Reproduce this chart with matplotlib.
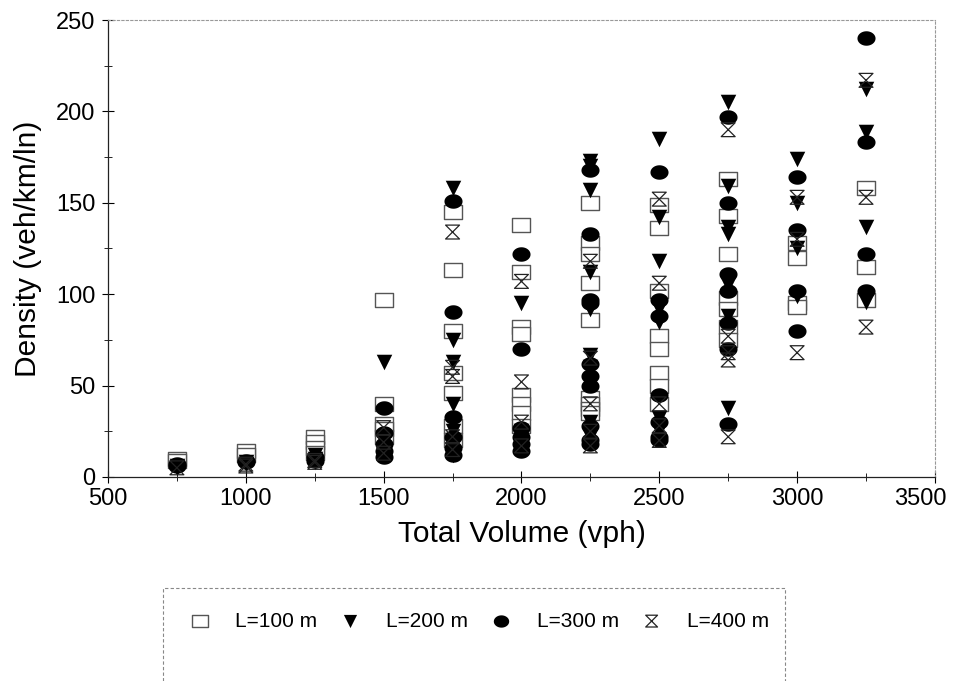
import matplotlib
matplotlib.use("Agg")
import matplotlib.pyplot as plt
from matplotlib.path import Path
from matplotlib.ticker import MultipleLocator
from matplotlib.patches import Rectangle
from matplotlib.transforms import ScaledTranslation
import numpy as np

plt.rcParams['font.family'] = ['Liberation Sans', 'DejaVu Sans']

# ---- data ----
L100 = {
    750: [10, 9],
    1000: [14, 12],
    1250: [22, 19, 16, 13],
    1500: [97, 40, 29, 26, 22],
    1750: [145, 113, 80, 57, 46, 28, 20],
    2000: [138, 112, 82, 78, 45, 40, 35, 28],
    2250: [150, 128, 122, 106, 86, 43, 40, 37, 35],
    2500: [149, 136, 102, 77, 70, 57, 50, 40],
    2750: [163, 143, 122, 98, 92, 82, 75],
    3000: [128, 120, 95, 93],
    3250: [158, 115, 97],
}
L200 = {
    750: [6, 5],
    1000: [8, 7],
    1250: [12, 10, 8],
    1500: [63, 20, 15, 12],
    1750: [158, 75, 63, 40, 25, 18, 12],
    2000: [95, 25, 20, 15],
    2250: [173, 170, 157, 112, 92, 67, 60, 30, 22],
    2500: [185, 142, 118, 92, 85, 32, 25],
    2750: [205, 159, 137, 133, 105, 88, 38],
    3000: [174, 150, 125, 99],
    3250: [212, 189, 137, 96],
}
L300 = {
    750: [7, 6],
    1000: [9, 8],
    1250: [11, 9],
    1500: [38, 24, 18, 14, 11],
    1750: [151, 90, 33, 22, 16, 12],
    2000: [122, 70, 27, 22, 18, 14],
    2250: [168, 133, 97, 95, 62, 55, 50, 28, 20, 18],
    2500: [167, 97, 88, 45, 30, 22, 20],
    2750: [197, 150, 111, 102, 84, 70, 29],
    3000: [164, 135, 102, 80],
    3250: [240, 183, 122, 102],
}
L400 = {
    750: [5],
    1000: [6, 7],
    1250: [9, 8],
    1500: [27, 19, 13],
    1750: [134, 60, 55, 22, 15],
    2000: [107, 52, 30, 17],
    2250: [118, 65, 40, 25, 17],
    2500: [152, 106, 40, 28, 20],
    2750: [190, 77, 68, 64, 22],
    3000: [153, 130, 68],
    3250: [217, 153, 82],
}
labels = ["L=100 m", "L=200 m", "L=300 m", "L=400 m"]

def flat(d):
    xs, ys = [], []
    for k, vals in d.items():
        for v in vals:
            xs.append(k)
            ys.append(v)
    return xs, ys

# custom markers
rect = Path([(-1, -0.78), (1, -0.78), (1, 0.78), (-1, 0.78), (-1, -0.78)],
            [Path.MOVETO, Path.LINETO, Path.LINETO, Path.LINETO, Path.CLOSEPOLY])
hour = Path([(-1, 1), (1, 1), (-1, -1), (1, -1), (-1, 1)],
            [Path.MOVETO, Path.LINETO, Path.LINETO, Path.LINETO, Path.CLOSEPOLY])
t = np.linspace(0, 2 * np.pi, 40)
ell = Path(np.column_stack([np.cos(t), 0.8 * np.sin(t)]))

fig = plt.figure(figsize=(9.54, 6.81), dpi=100)
ax = fig.add_axes([0.1132, 0.2996, 0.8668, 0.671])

styles = [
    dict(marker=rect, facecolors='white', edgecolors='#555555', s=165, linewidths=1.0),
    dict(marker='v', c='black', s=125, linewidths=0),
    dict(marker=ell, c='black', s=170, linewidths=0),
    dict(marker=hour, facecolors='none', edgecolors='#222222', s=100, linewidths=0.9),
]
handles = []
for d, st, lab in zip([L100, L200, L300, L400], styles, labels):
    xs, ys = flat(d)
    h = ax.scatter(xs, ys, label=lab, zorder=3, **st)
    handles.append(h)

ax.set_xlim(500, 3500)
ax.set_ylim(0, 250)
ax.xaxis.set_major_locator(MultipleLocator(500))
ax.xaxis.set_minor_locator(MultipleLocator(250))
ax.yaxis.set_major_locator(MultipleLocator(50))
ax.yaxis.set_minor_locator(MultipleLocator(25))
ax.tick_params(axis='both', which='major', direction='inout', length=8, width=0.8,
               labelsize=17, colors='black')
ax.tick_params(axis='both', which='minor', direction='inout', length=6, width=0.6)
ax.tick_params(axis='x', pad=4)
ax.tick_params(axis='y', pad=5)

for s in ['top', 'right']:
    ax.spines[s].set_linestyle((0, (2, 2)))
    ax.spines[s].set_color('#999999')
    ax.spines[s].set_linewidth(0.8)
for s in ['left', 'bottom']:
    ax.spines[s].set_color('#222222')
    ax.spines[s].set_linewidth(0.9)

ax.set_xlabel("Total Volume (vph)", fontsize=21.5, labelpad=7)
ax.set_ylabel("Density (veh/km/ln)", fontsize=21.5, labelpad=10)

leg = fig.legend(handles=handles, labels=labels, loc='center',
                 bbox_to_anchor=(0.497, 0.088), ncol=4, frameon=False,
                 fontsize=15, handlelength=2.0, handletextpad=0.71,
                 columnspacing=0.58, markerscale=0.85)

fig.patches.append(Rectangle((163 / 954, -0.05), (785 - 163) / 954, 0.05 + 1 - 588 / 681,
                             transform=fig.transFigure, fill=False,
                             edgecolor='#888888', linewidth=0.8,
                             linestyle=(0, (3, 2)), figure=fig))

# shift last x tick label to stay inside the figure, as in the original
fig.canvas.draw()
lab_last = ax.xaxis.get_major_ticks()[-1].label1
for tk in ax.xaxis.get_major_ticks():
    if abs(tk.get_loc() - 3500) < 1e-6:
        lab_last = tk.label1
lab_last.set_transform(lab_last.get_transform() + ScaledTranslation(-0.15, 0, fig.dpi_scale_trans))

fig.savefig("out.png", dpi=100, facecolor='white')
